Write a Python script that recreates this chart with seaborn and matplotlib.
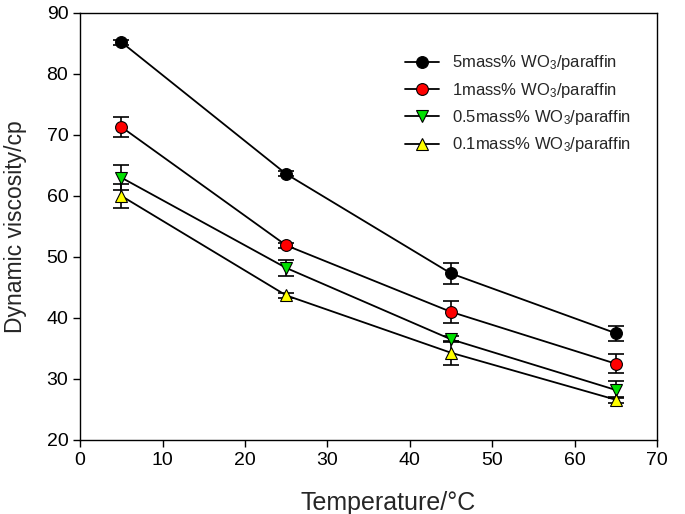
import numpy as np
import pandas as pd
import seaborn as sns
import matplotlib.pyplot as plt

#--Data
temps = [5, 25, 45, 65]
labels = ['5mass% WO$_3$/paraffin', '1mass% WO$_3$/paraffin',
          '0.5mass% WO$_3$/paraffin', '0.1mass% WO$_3$/paraffin']
visc_5 = [85.2, 63.6, 47.3, 37.5]
visc_1 = [71.3, 51.9, 41.0, 32.5]
visc_05 = [63.0, 48.2, 36.5, 28.2]
visc_01 = [60.0, 43.7, 34.3, 26.6]
err_5 = [0.4, 0.4, 1.7, 1.2]
err_1 = [1.6, 0.4, 1.8, 1.6]
err_05 = [2.0, 1.3, 0.5, 1.4]
err_01 = [2.0, 0.4, 2.0, 0.5]

series = [visc_5, visc_1, visc_05, visc_01]
errors = [err_5, err_1, err_05, err_01]
markers = ['o', 'o', 'v', '^']
faces = ['black', 'red', '#00e000', '#ffff00']

sns.set_style('ticks')
plt.rcParams['font.family'] = ['Liberation Sans', 'DejaVu Sans']
plt.rcParams['mathtext.fontset'] = 'custom'
plt.rcParams['mathtext.rm'] = 'Liberation Sans'
plt.rcParams['mathtext.it'] = 'Liberation Sans'

fig = plt.figure(figsize=(6.85, 5.14), dpi=100)
ax = fig.add_axes([0.117, 0.144, 0.842, 0.831])

for vals, errs, lab, m, fc in zip(series, errors, labels, markers, faces):
    df = pd.DataFrame({'T': temps, 'v': vals})
    ax.errorbar(df['T'], df['v'], yerr=errs, fmt='none', ecolor='black',
                elinewidth=1.2, capsize=6, capthick=1.2, zorder=2)
    sns.lineplot(data=df, x='T', y='v', ax=ax, color='black', lw=1.3,
                 marker=m, markersize=8.5, markerfacecolor=fc,
                 markeredgecolor='black', markeredgewidth=0.8,
                 label=lab, zorder=3)

ax.set_xlim(0, 70)
ax.set_ylim(20, 90)
ax.set_xticks(np.arange(0, 71, 10))
ax.set_yticks(np.arange(20, 91, 10))
ax.tick_params(direction='out', length=5, width=1, labelsize=14, colors='black')
for s in ax.spines.values():
    s.set_visible(True)
    s.set_linewidth(1)
    s.set_color('black')
ax.set_xlabel('Temperature/°C', fontsize=18, labelpad=16)
ax.xaxis.label.set_x(0.534)
ax.set_ylabel('Dynamic viscosity/cp', fontsize=16.5, labelpad=14)

ax.legend(loc='upper right', bbox_to_anchor=(0.981, 0.94), frameon=False,
          fontsize=12, handlelength=2.0, handletextpad=0.8, labelspacing=0.5)

plt.savefig('out.png', dpi=100)
plt.close()
